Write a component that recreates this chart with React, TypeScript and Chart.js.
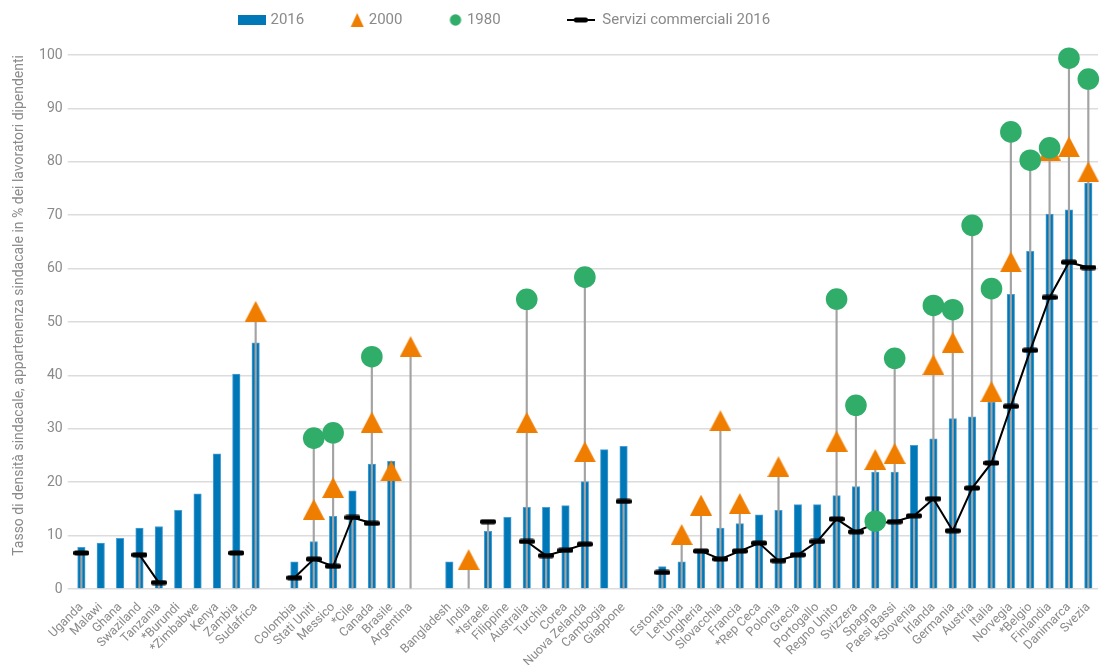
import React, { useEffect, useRef } from 'react';
import { Chart, registerables } from 'chart.js';

Chart.register(...registerables);

const categories = [
  'Uganda', 'Malawi', 'Ghana', 'Swaziland', 'Tanzania', '*Burundi', '*Zimbabwe', 'Kenya', 'Zambia', 'Sudafrica',
  '',
  'Colombia', 'Stati Uniti', 'Messico', '*Cile', 'Canada', 'Brasile', 'Argentina',
  '',
  'Bangladesh', 'India', '*Israele', 'Filippine', 'Australia', 'Turchia', 'Corea', 'Nuova Zelanda', 'Cambogia', 'Giappone',
  '',
  'Estonia', 'Lettonia', 'Ungheria', 'Slovacchia', 'Francia', '*Rep Ceca', 'Polonia', 'Grecia', 'Portogallo',
  'Regno Unito', 'Svizzera', 'Spagna', 'Paesi Bassi', '*Slovenia', 'Irlanda', 'Germania', 'Austria', 'Italia',
  'Norvegia', '*Belgio', 'Finlandia', 'Danimarca', 'Svezia',
];

const density2016 = [
  7.8, 8.6, 9.5, 11.4, 11.7, 14.75, 17.8, 25.3, 40.25, 46.1,
  null,
  5.1, 8.9, 13.6, 18.4, 23.4, 23.9, null,
  null,
  5.1, null, 10.8, 13.4, 15.3, 15.3, 15.6, 20.1, 26.1, 26.7,
  null,
  4.2, 5.1, 7.4, 11.4, 12.25, 13.9, 14.75, 15.8, 15.8,
  17.5, 19.2, 21.9, 21.9, 26.9, 28.1, 31.9, 32.25, 35,
  55.2, 63.25, 70.2, 71, 76,
];

const density2000 = [
  null, null, null, null, null, null, null, null, null, 52,
  null,
  null, 14.9, 19, null, 31.25, 22.1, 45.4,
  null,
  null, 5.5, null, null, 31.2, null, null, 25.7, null, null,
  null,
  null, 10.2, 15.7, 31.5, 16, null, 22.9, null, null,
  27.7, null, 24.25, 25.4, null, 42, 46.2, null, 37,
  61.25, null, 82.2, 82.8, 78.1,
];

const density1980 = [
  null, null, null, null, null, null, null, null, null, null,
  null,
  null, 28.25, 29.25, null, 43.5, null, null,
  null,
  null, null, null, null, 54.25, null, null, 58.4, null, null,
  null,
  null, null, null, null, null, null, null, null, null,
  54.3, 34.4, 12.7, 43.2, null, 53.1, 52.3, 68.1, 56.25,
  85.6, 80.3, 82.6, 99.4, 95.5,
];

const services2016 = [
  6.75, null, null, 6.4, 1.2, null, null, null, 6.75, null,
  null,
  2.1, 5.6, 4.25, 13.4, 12.3, null, null,
  null,
  null, null, 12.6, null, 8.9, 6.25, 7.25, 8.4, null, 16.4,
  null,
  3.1, null, 7.1, 5.6, 7.1, 8.6, 5.3, 6.4, 8.9,
  13.1, 10.7, 12.3, 12.6, 13.7, 16.9, 10.9, 18.9, 23.6,
  34.2, 44.7, 54.6, 61.2, 60.2,
];

const seriesNames = ['2016', '2000', '1980', 'Servizi commerciali 2016'];
const yAxisTitle = 'Tasso di densità sindacale, appartenenza sindacale in % dei lavoratori dipendenti';
const yMin = 0;
const yMax = 100;
const yStep = 10;

const BLUE = '#0077b7';
const ORANGE = '#ef7d00';
const GREEN = '#2fad69';
const GREY_TEXT = '#8a8a8a';
const FONT = "Roboto, 'Liberation Sans', sans-serif";

function makeCanvas(w: number, h: number, draw: (ctx: CanvasRenderingContext2D) => void) {
  const c = document.createElement('canvas');
  c.width = w;
  c.height = h;
  const ctx = c.getContext('2d')!;
  draw(ctx);
  return c;
}

function triangle(ctx: CanvasRenderingContext2D, x0: number, w: number, h: number) {
  ctx.fillStyle = ORANGE;
  ctx.beginPath();
  ctx.moveTo(x0 + w / 2, 0);
  ctx.lineTo(x0 + w, h);
  ctx.lineTo(x0, h);
  ctx.closePath();
  ctx.fill();
}

export default function App() {
  const ref = useRef<HTMLCanvasElement | null>(null);

  useEffect(() => {
    if (!ref.current) return;

    const triPoint = makeCanvas(22, 21, (ctx) => triangle(ctx, 0, 22, 21));
    const dashPoint = makeCanvas(16, 6, (ctx) => {
      ctx.fillStyle = '#000';
      ctx.beginPath();
      (ctx as any).roundRect(0, 0.5, 16, 5, 2);
      ctx.fill();
    });

    const legBar = makeCanvas(34, 10, (ctx) => {
      ctx.fillStyle = BLUE;
      ctx.fillRect(6, 0, 28, 10);
    });
    const legTri = makeCanvas(44, 14, (ctx) => triangle(ctx, 25.5, 13, 14));
    const legCircle = makeCanvas(44, 12, (ctx) => {
      ctx.fillStyle = GREEN;
      ctx.beginPath();
      ctx.arc(32, 6, 5.7, 0, Math.PI * 2);
      ctx.fill();
    });
    const legLine = makeCanvas(28, 6, (ctx) => {
      ctx.fillStyle = '#000';
      ctx.fillRect(0, 2, 28, 2);
      ctx.beginPath();
      (ctx as any).roundRect(7, 0.5, 14, 5, 2);
      ctx.fill();
    });
    const legendIcons = [legBar, legTri, legCircle, legLine];
    const legendTexts = [seriesNames[0], seriesNames[1], seriesNames[2] + '          ', seriesNames[3]];

    const stems = categories.map((_, i) => {
      const vals = [density2000[i], density1980[i], services2016[i]].filter((v) => v !== null) as number[];
      return vals.length ? [0, Math.max(...vals)] : null;
    });

    const legendShift = {
      id: 'legendShift',
      afterLayout(chart: any) {
        const lg = chart.legend;
        if (lg) {
          const pad = lg.options.labels.padding;
          lg.left = 235 - pad;
        }
      },
    };

    const chart = new Chart(ref.current, {
      type: 'bar',
      data: {
        labels: categories,
        datasets: [
          {
            type: 'line',
            label: seriesNames[2],
            data: density1980,
            showLine: false,
            pointStyle: 'circle',
            pointRadius: 10.8,
            pointBackgroundColor: GREEN,
            pointBorderWidth: 0,
            order: 1,
            clip: false,
          } as any,
          {
            type: 'line',
            label: seriesNames[1],
            data: density2000,
            showLine: false,
            pointStyle: triPoint,
            pointRadius: 11,
            order: 2,
            clip: false,
          } as any,
          {
            type: 'line',
            label: seriesNames[3],
            data: services2016,
            borderColor: '#000',
            borderWidth: 2,
            pointStyle: dashPoint,
            pointRadius: 8,
            spanGaps: false,
            order: 3,
            clip: false,
          } as any,
          {
            type: 'bar',
            label: 'stems',
            data: stems,
            backgroundColor: '#a3a3a3',
            barThickness: 1.5,
            grouped: false,
            order: 4,
          } as any,
          {
            type: 'bar',
            label: seriesNames[0],
            data: density2016,
            backgroundColor: BLUE,
            borderColor: '#4c9fd3',
            borderWidth: 1,
            barThickness: 7.5,
            grouped: false,
            order: 5,
          } as any,
        ],
      },
      options: {
        animation: false,
        responsive: false,
        maintainAspectRatio: false,
        layout: { padding: { top: -16.5, right: 3, left: 0, bottom: 0 } },
        plugins: {
          tooltip: { enabled: false },
          title: {
            display: true,
            text: '',
            weight: 500,
            padding: { top: 0, bottom: 0 },
            font: { size: 17.5, lineHeight: 1 },
          } as any,
          legend: {
            display: true,
            position: 'top',
            align: 'start',
            labels: {
              usePointStyle: true,
              pointStyleWidth: 28,
              padding: 29,
              color: GREY_TEXT,
              font: { family: FONT, size: 15 },
              generateLabels: () =>
                legendTexts.map((t, i) => ({
                  text: t,
                  pointStyle: legendIcons[i],
                  fillStyle: 'transparent',
                  strokeStyle: 'transparent',
                  lineWidth: 0,
                  hidden: false,
                  fontColor: GREY_TEXT,
                  datasetIndex: i,
                })) as any,
            },
          },
        },
        scales: {
          x: {
            type: 'category',
            offset: true,
            grid: { display: false },
            border: { display: false },
            ticks: {
              autoSkip: false,
              minRotation: 45,
              maxRotation: 45,
              padding: 3,
              color: GREY_TEXT,
              font: { family: FONT, size: 12.5 },
            },
            afterFit: (s: any) => {
              s.height = 76;
            },
          },
          y: {
            min: yMin,
            max: yMax,
            ticks: {
              stepSize: yStep,
              padding: 5,
              color: GREY_TEXT,
              font: { family: FONT, size: 14 },
            },
            grid: { color: '#dcdcdc', lineWidth: 1.5, tickLength: 4 },
            border: { display: false },
            title: {
              display: true,
              text: yAxisTitle,
              align: 'end',
              color: GREY_TEXT,
              font: { family: FONT, size: 14, lineHeight: 1.2 },
              padding: { top: 11.5, bottom: 0 },
            },
            afterFit: (s: any) => {
              s.width = 71.7;
            },
          },
        },
      } as any,
      plugins: [legendShift],
    });

    return () => chart.destroy();
  }, []);

  return (
    <div style={{ position: 'fixed', left: 0, top: 0, width: 1100, height: 665, overflow: 'hidden', background: '#fff' }}>
      <canvas ref={ref} width={1110} height={665} style={{ display: 'block' }} />
    </div>
  );
}
